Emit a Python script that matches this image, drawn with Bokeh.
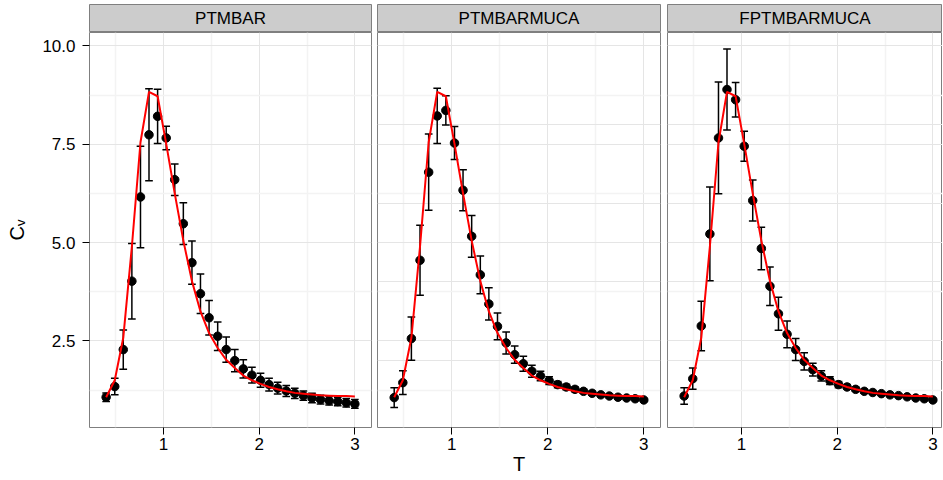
from bokeh.plotting import figure
from bokeh.layouts import row, column
from bokeh.models import FixedTicker, Grid, Label, PrintfTickFormatter, Range1d
from bokeh.embed import file_html
from bokeh.resources import INLINE

# ---------------- data ----------------
T = [0.400, 0.490, 0.579, 0.669, 0.759, 0.848, 0.938, 1.028, 1.117, 1.207,
     1.297, 1.386, 1.476, 1.566, 1.655, 1.745, 1.834, 1.924, 2.014, 2.103,
     2.193, 2.283, 2.372, 2.462, 2.552, 2.641, 2.731, 2.821, 2.910, 3.000]

fit_cv = [1.07, 1.50, 2.58, 4.90, 7.55, 8.83, 8.72, 7.51, 6.25, 5.05,
          4.02, 3.25, 2.70, 2.32, 2.02, 1.81, 1.62, 1.50, 1.41, 1.33,
          1.27, 1.22, 1.18, 1.16, 1.14, 1.12, 1.11, 1.10, 1.10, 1.09]

panel_names = ["PTMBAR", "PTMBARMUCA", "FPTMBARMUCA"]

cv_ptmbar = [1.07, 1.34, 2.28, 4.02, 6.16, 7.74, 8.21, 7.66, 6.60, 5.48,
             4.49, 3.70, 3.09, 2.62, 2.28, 2.00, 1.79, 1.63, 1.50, 1.39,
             1.30, 1.23, 1.17, 1.11, 1.05, 1.01, 0.98, 0.96, 0.93, 0.90]
err_ptmbar = [0.11, 0.21, 0.50, 0.96, 1.29, 1.17, 0.69, 0.30, 0.40, 0.53,
              0.55, 0.50, 0.44, 0.36, 0.32, 0.28, 0.23, 0.20, 0.18, 0.16,
              0.15, 0.14, 0.13, 0.12, 0.12, 0.11, 0.11, 0.11, 0.11, 0.11]

cv_ptmbarmuca = [1.06, 1.44, 2.56, 4.55, 6.79, 8.22, 8.36, 7.53, 6.33, 5.16,
                 4.18, 3.44, 2.87, 2.45, 2.15, 1.92, 1.73, 1.61, 1.49, 1.39,
                 1.33, 1.27, 1.22, 1.17, 1.13, 1.10, 1.07, 1.05, 1.03, 1.00]
err_ptmbarmuca = [0.25, 0.30, 0.55, 0.89, 0.97, 0.70, 0.37, 0.42, 0.52, 0.53,
                  0.48, 0.41, 0.34, 0.28, 0.22, 0.19, 0.15, 0.12, 0.10, 0.08,
                  0.07, 0.06, 0.05, 0.05, 0.04, 0.04, 0.04, 0.03, 0.03, 0.03]

cv_fptmbarmuca = [1.10, 1.54, 2.88, 5.22, 7.66, 8.89, 8.63, 7.45, 6.07, 4.85,
                  3.89, 3.19, 2.67, 2.28, 1.98, 1.77, 1.61, 1.49, 1.39, 1.33,
                  1.27, 1.22, 1.19, 1.16, 1.13, 1.11, 1.08, 1.05, 1.03, 1.00]
err_fptmbarmuca = [0.21, 0.27, 0.63, 1.19, 1.42, 1.03, 0.44, 0.38, 0.52, 0.54,
                   0.49, 0.42, 0.34, 0.28, 0.22, 0.16, 0.13, 0.10, 0.08, 0.06,
                   0.05, 0.05, 0.04, 0.04, 0.04, 0.03, 0.03, 0.03, 0.03, 0.03]

x_major_ticks = [1, 2, 3]
x_minor_ticks = [0.5, 1.5, 2.5]
y_major_ticks = [2.5, 5.0, 7.5, 10.0]
y_minor_ticks = [1.25, 3.75, 6.25, 8.75]

x_label = "T"
y_label = "C\u1d65"

# ---------------- styling / layout ----------------
FONT = "Liberation Sans"
Y_START, Y_END = 0.30, 10.34
X_START, X_END = 0.226, 3.174
PX_PER_UNIT = 282 / (X_END - X_START)
HALF_CAP = 0.04
FRAME_H = 395
STRIP_TOP = 4
STRIP_H = 28
BOTTOM = 46

specs = [
    dict(left=89, fw=282, right=3, yaxis=True),
    dict(left=3, fw=283, right=3, yaxis=False),
    dict(left=4, fw=275, right=0, yaxis=False),
]

cvs = [cv_ptmbar, cv_ptmbarmuca, cv_fptmbarmuca]
errs = [err_ptmbar, err_ptmbarmuca, err_fptmbarmuca]

y_range = Range1d(Y_START, Y_END)


def style_grid(g):
    g.grid_line_color = "#E5E5E5"
    g.grid_line_width = 1
    g.minor_grid_line_color = "#F3F3F3"
    g.minor_grid_line_width = 1.5


cols = []
for i, (name, cv, err) in enumerate(zip(panel_names, cvs, errs)):
    s = specs[i]
    x_end = X_END if i < 2 else X_START + s["fw"] / PX_PER_UNIT

    strip = figure(frame_width=s["fw"], frame_height=STRIP_H,
                   min_border_left=s["left"], min_border_right=s["right"],
                   min_border_top=STRIP_TOP, min_border_bottom=0,
                   x_range=(0, 1), y_range=(0, 1),
                   x_axis_location=None, y_axis_location=None,
                   toolbar_location=None, output_backend="svg")
    for g in strip.grid:
        g.visible = False
    strip.background_fill_color = "#CCCCCC"
    strip.border_fill_color = "white"
    strip.outline_line_color = "#7F7F7F"
    strip.outline_line_width = 1
    strip.add_layout(Label(x=0.5, y=0.5, text=name, text_align="center",
                           text_baseline="middle", text_font=FONT,
                           text_font_size="17px", text_color="black"))

    p = figure(frame_width=s["fw"], frame_height=FRAME_H,
               min_border_left=s["left"], min_border_right=s["right"],
               min_border_top=0, min_border_bottom=BOTTOM,
               x_range=Range1d(X_START, x_end), y_range=y_range,
               y_axis_location="left" if s["yaxis"] else None,
               toolbar_location=None, output_backend="svg")
    p.background_fill_color = "white"
    p.border_fill_color = "white"
    p.outline_line_color = "#7F7F7F"
    p.outline_line_width = 1

    xt = FixedTicker(ticks=x_major_ticks, minor_ticks=x_minor_ticks)
    yt = FixedTicker(ticks=y_major_ticks, minor_ticks=y_minor_ticks)
    p.xaxis.ticker = xt
    p.xgrid.ticker = xt
    style_grid(p.xgrid)
    if s["yaxis"]:
        p.yaxis.ticker = yt
        p.ygrid.ticker = yt
        style_grid(p.ygrid)
        p.yaxis.formatter = PrintfTickFormatter(format="%.1f")
        ax = p.yaxis
        ax.major_label_standoff = 7
        ax.axis_label = y_label
        ax.axis_label_standoff = 11
        ax.axis_label_text_font = FONT
        ax.axis_label_text_font_size = "20px"
        ax.axis_label_text_font_style = "normal"
        ax.axis_label_text_color = "black"
    else:
        g = Grid(dimension=1, ticker=yt)
        style_grid(g)
        p.add_layout(g)

    for ax in list(p.xaxis) + list(p.yaxis):
        ax.axis_line_color = None
        ax.major_tick_line_color = "black"
        ax.major_tick_line_width = 1
        ax.major_tick_out = 7
        ax.major_tick_in = 0
        ax.minor_tick_line_color = None
        ax.major_label_text_font = FONT
        ax.major_label_text_font_size = "17px"
        ax.major_label_text_color = "black"
    p.xaxis.major_label_standoff = 3

    if i == 1:
        p.xaxis.axis_label = x_label
        p.xaxis.axis_label_standoff = 0
        p.xaxis.axis_label_text_font = FONT
        p.xaxis.axis_label_text_font_size = "20px"
        p.xaxis.axis_label_text_font_style = "normal"
        p.xaxis.axis_label_text_color = "black"

    lo = [c - e for c, e in zip(cv, err)]
    hi = [c + e for c, e in zip(cv, err)]
    left = [t - HALF_CAP for t in T]
    right = [t + HALF_CAP for t in T]
    p.segment(x0=T, y0=lo, x1=T, y1=hi, line_color="black", line_width=1.5)
    p.segment(x0=left, y0=hi, x1=right, y1=hi, line_color="black", line_width=1.5)
    p.segment(x0=left, y0=lo, x1=right, y1=lo, line_color="black", line_width=1.5)
    p.scatter(x=T, y=cv, size=8.5, fill_color="black", line_color="black")
    p.line(x=T, y=fit_cv, line_color="#FF0000", line_width=2)

    cols.append(column(strip, p, spacing=0))

layout = row(*cols, spacing=0)

open("out.html", "w").write(file_html(layout, INLINE))
